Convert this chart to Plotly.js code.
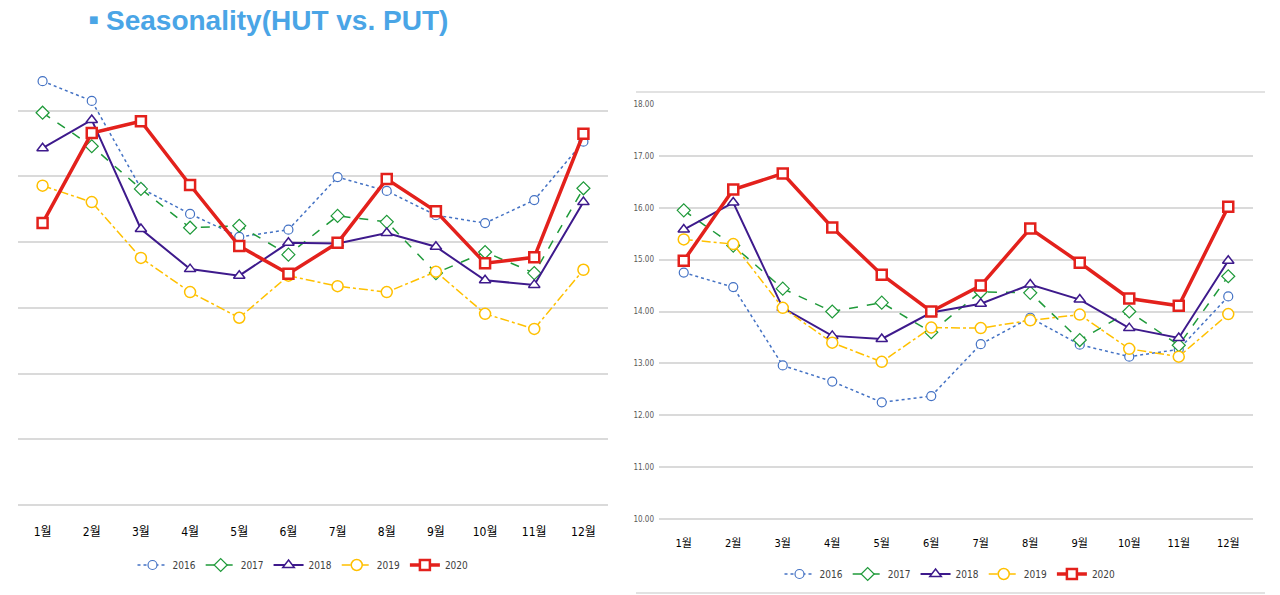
<!DOCTYPE html>
<html>
<head>
<meta charset="utf-8">
<script src="https://cdn.plot.ly/plotly-3.0.1.min.js"></script>
<style>
  html, body { margin: 0; padding: 0; background: #fff; }
  #chart { width: 1280px; height: 595px; }
</style>
</head>
<body>
<div id="chart"></div>
<script>
// months shared by both panels
const months = ['1월','2월','3월','4월','5월','6월','7월','8월','9월','10월','11월','12월'];
const years = ['2016','2017','2018','2019','2020'];

// left panel (HUT) - axis has no labels, values read off gridlines
const hut2016 = [30.45, 30.15, 28.82, 28.43, 28.08, 28.19, 28.99, 28.78, 28.41, 28.29, 28.64, 29.53];
const hut2017 = [29.97, 29.46, 28.81, 28.22, 28.25, 27.81, 28.40, 28.31, 27.53, 27.85, 27.53, 28.82];
const hut2018 = [29.43, 29.86, 28.20, 27.59, 27.49, 27.99, 27.98, 28.14, 27.93, 27.42, 27.35, 28.61];
const hut2019 = [28.86, 28.61, 27.76, 27.24, 26.85, 27.49, 27.33, 27.24, 27.55, 26.91, 26.68, 27.58];
const hut2020 = [28.29, 29.66, 29.84, 28.87, 27.94, 27.52, 27.99, 28.96, 28.47, 27.68, 27.77, 29.65];

// right panel (PUT)
const put2016 = [14.75, 14.47, 12.96, 12.65, 12.25, 12.37, 13.37, 13.88, 13.36, 13.13, 13.27, 14.29];
const put2017 = [15.95, 15.27, 14.44, 14.00, 14.17, 13.60, 14.38, 14.36, 13.45, 14.00, 13.35, 14.68];
const put2018 = [15.58, 16.10, 14.07, 13.53, 13.47, 13.98, 14.15, 14.52, 14.23, 13.68, 13.49, 14.98];
const put2019 = [15.39, 15.30, 14.07, 13.40, 13.03, 13.69, 13.68, 13.83, 13.94, 13.28, 13.13, 13.95];
const put2020 = [14.98, 16.35, 16.66, 15.62, 14.71, 14.00, 14.50, 15.60, 14.94, 14.25, 14.11, 16.02];

const hutSeries = [hut2016, hut2017, hut2018, hut2019, hut2020];
const putSeries = [put2016, put2017, put2018, put2019, put2020];

const styles = [
  { color: '#4472C4', dash: 'dot',     width: 1.5, symbol: 'circle',      size: 9,  mlw: 1.2 },
  { color: '#1F9A3A', dash: 'dash',    width: 1.5, symbol: 'diamond',     size: 10, mlw: 1.2 },
  { color: '#3E1A8C', dash: 'solid',   width: 2,   symbol: 'triangle-up', size: 10, mlw: 1.5 },
  { color: '#FFC000', dash: 'dashdot', width: 1.5, symbol: 'circle',      size: 11, mlw: 1.5 },
  { color: '#E3211C', dash: 'solid',   width: 3.5, symbol: 'square',      size: 10, mlw: 2.5 }
];

function makeTrace(vals, i, xa, ya, legend) {
  const s = styles[i];
  return {
    x: months,
    y: vals,
    xaxis: xa,
    yaxis: ya,
    legend: legend,
    name: years[i],
    mode: 'lines+markers',
    line: { color: s.color, dash: s.dash, width: s.width },
    marker: { symbol: s.symbol, size: s.size, color: '#ffffff', line: { color: s.color, width: s.mlw } },
    hoverinfo: 'x+y+name'
  };
}

let data = [];
hutSeries.forEach((v, i) => data.push(makeTrace(v, i, 'x', 'y', 'legend')));
putSeries.forEach((v, i) => data.push(makeTrace(v, i, 'x2', 'y2', 'legend2')));

const narrow = '"Liberation Sans Narrow", "DejaVu Sans Condensed", "Noto Sans CJK KR", sans-serif';
const legendFont = { family: narrow, size: 10, color: '#404040' };

// extend ranges a little below the lowest gridline so it is drawn
let layout = {
  width: 1280,
  height: 595,
  margin: { l: 0, r: 0, t: 0, b: 0 },
  paper_bgcolor: '#ffffff',
  plot_bgcolor: '#ffffff',
  showlegend: true,
  xaxis: {
    domain: [18 / 1280, 608 / 1280],
    type: 'category',
    range: [-0.5, 11.5],
    showgrid: false,
    showline: false,
    zeroline: false,
    ticks: '',
    tickfont: { family: narrow, size: 12, color: '#000000' },
    ticklabelstandoff: 11
  },
  yaxis: {
    domain: [1 - 511.6 / 595, 1 - 70 / 595],
    range: [23.9, 30.62],
    dtick: 1,
    tick0: 24,
    showticklabels: false,
    showgrid: true,
    gridcolor: '#dadada',
    gridwidth: 1.5,
    zeroline: false,
    showline: false
  },
  xaxis2: {
    domain: [659 / 1280, 1253 / 1280],
    type: 'category',
    range: [-0.5, 11.5],
    anchor: 'y2',
    showgrid: false,
    showline: false,
    zeroline: false,
    ticks: '',
    tickfont: { family: narrow, size: 11, color: '#000000' },
    ticklabelstandoff: 11
  },
  yaxis2: {
    domain: [1 - 524.2 / 595, 1 - 104 / 595],
    range: [9.9, 18],
    dtick: 1,
    tick0: 10,
    anchor: 'x2',
    tickformat: '.2f',
    tickfont: { family: narrow, size: 8, color: '#595959' },
    showgrid: true,
    gridcolor: '#dadada',
    gridwidth: 1.5,
    zeroline: false,
    showline: false,
    ticklabelstandoff: 4
  },
  legend: {
    orientation: 'h',
    x: 303 / 1280,
    xanchor: 'center',
    y: 1 - 565 / 595,
    yanchor: 'middle',
    font: legendFont,
    bgcolor: 'rgba(0,0,0,0)',
    itemwidth: 30,
    tracegroupgap: 0
  },
  legend2: {
    orientation: 'h',
    x: 950 / 1280,
    xanchor: 'center',
    y: 1 - 574 / 595,
    yanchor: 'middle',
    font: legendFont,
    bgcolor: 'rgba(0,0,0,0)',
    itemwidth: 30,
    tracegroupgap: 0
  },
  shapes: [
    { type: 'line', xref: 'paper', yref: 'paper', x0: 636 / 1280, x1: 1265 / 1280, y0: 1 - 92 / 595, y1: 1 - 92 / 595, line: { color: '#d9d9d9', width: 1.5 } },
    { type: 'line', xref: 'paper', yref: 'paper', x0: 636 / 1280, x1: 1265 / 1280, y0: 1 - 593 / 595, y1: 1 - 593 / 595, line: { color: '#d9d9d9', width: 1.5 } }
  ],
  annotations: [
    {
      text: '■',
      xref: 'paper', yref: 'paper',
      x: 87 / 1280, y: 1 - 20 / 595,
      xanchor: 'left', yanchor: 'middle',
      showarrow: false,
      font: { family: 'DejaVu Sans, sans-serif', size: 10, color: '#4AA5E6' }
    },
    {
      text: '<b>Seasonality(HUT vs. PUT)</b>',
      xref: 'paper', yref: 'paper',
      x: 104 / 1280, y: 1 - 21 / 595,
      xanchor: 'left', yanchor: 'middle',
      showarrow: false,
      font: { family: 'Liberation Sans, Arial, sans-serif', size: 28, color: '#4AA5E6' }
    }
  ]
};

Plotly.newPlot('chart', data, layout, { displayModeBar: false, responsive: false });
</script>
</body>
</html>
